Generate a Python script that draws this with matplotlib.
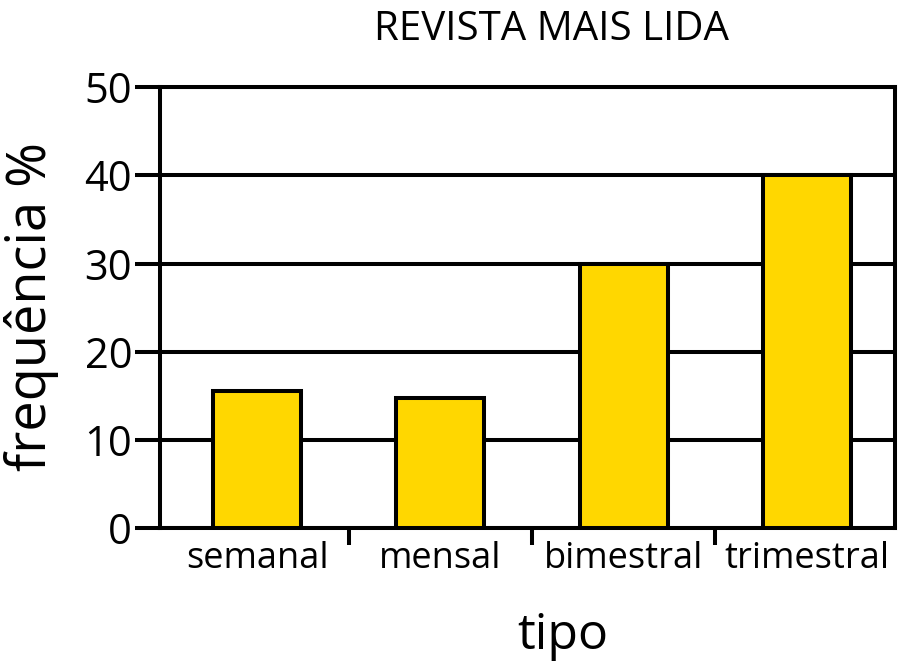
import matplotlib
matplotlib.use('Agg')
import matplotlib.pyplot as plt
import numpy as np

plt.rcParams['font.family'] = ['Open Sans', 'DejaVu Sans']

# data
tipos = ['semanal', 'mensal', 'bimestral', 'trimestral']
frequencia = [15.6, 14.8, 30, 40]
yticks = [0, 10, 20, 30, 40, 50]

lw = 2.9
fig = plt.figure(figsize=(9.04, 6.66), dpi=100)
ax = fig.add_axes([0.177, 0.207, 0.813, 0.662])

x = np.arange(len(tipos))
ax.bar(x, frequencia, width=0.48, color='#FFD700', edgecolor='black',
       linewidth=lw, zorder=3)

ax.set_xlim(-0.53, 3.48)
ax.set_ylim(0, 50)
ax.set_yticks(yticks)
ax.set_yticklabels([str(v) for v in yticks], fontsize=30)
ax.yaxis.grid(True, color='black', linewidth=lw, zorder=1)
ax.set_axisbelow(True)

ax.set_xticks(x)
ax.set_xticklabels(tipos, fontsize=26)
ax.tick_params(axis='x', which='major', length=0, pad=9)
ax.set_xticks([0.5, 1.5, 2.5], minor=True)
ax.tick_params(axis='x', which='minor', length=12, width=lw, direction='out')
ax.tick_params(axis='y', length=18, width=lw, direction='out', pad=2)

for s in ax.spines.values():
    s.set_linewidth(lw)

fig.text(0.61, 0.955, 'REVISTA MAIS LIDA', fontsize=29, ha='center', va='center')
fig.text(0.035, 0.54, 'frequência %', fontsize=39, rotation=90,
         ha='center', va='center')
fig.text(0.623, 0.045, 'tipo', fontsize=36, ha='center', va='center')

fig.savefig('out.png', dpi=100)
